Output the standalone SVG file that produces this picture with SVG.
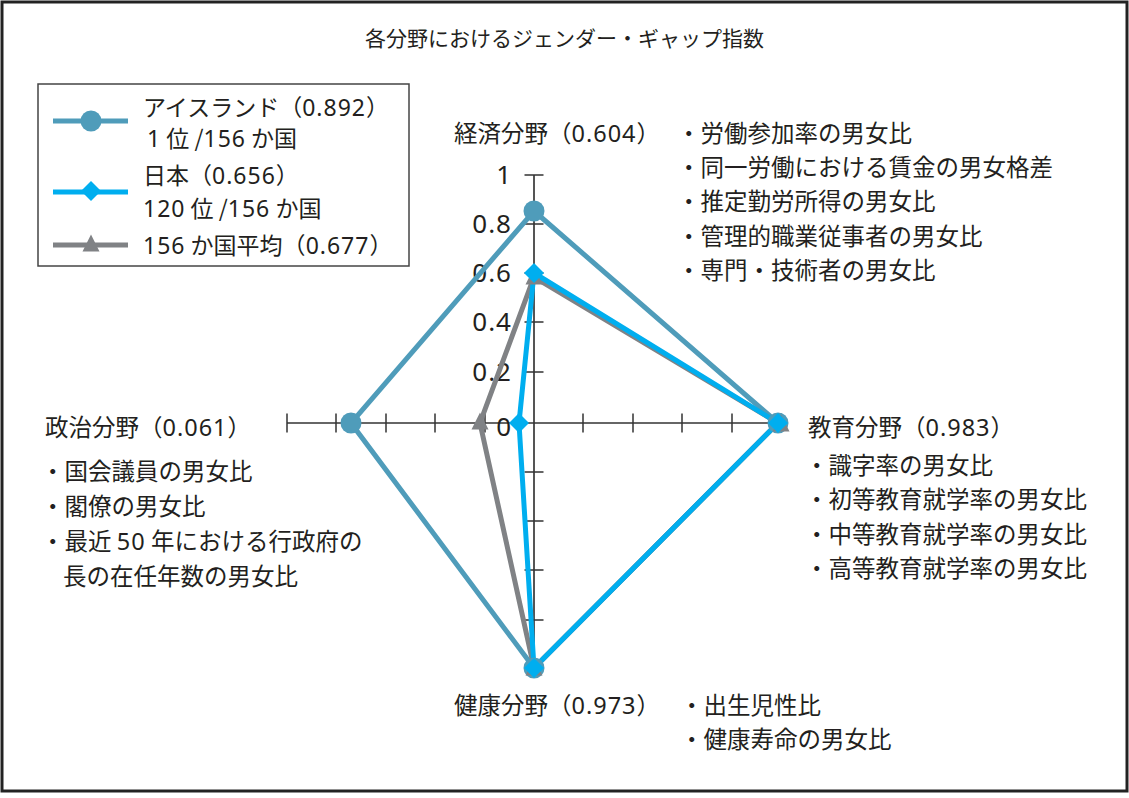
<svg xmlns="http://www.w3.org/2000/svg" width="1129" height="798" viewBox="0 0 1129 798">
<defs>
<style>
text{font-family:"Noto Sans CJK JP","Noto Sans",sans-serif;fill:#231f20;}
.t{font-size:21px;}
.l{font-size:23.5px;}
.g{font-size:23px;}
.d{font-family:"Noto Sans","Noto Sans CJK JP",sans-serif;letter-spacing:1px;}
.n{font-size:26px;text-anchor:end;font-family:"Noto Sans",sans-serif;letter-spacing:1px;}
.ax{stroke:#333;stroke-width:1.5;fill:none;}
.ice{stroke:#4f9cba;stroke-width:5;fill:none;}
.jp{stroke:#00aeef;stroke-width:5;fill:none;}
.avg{stroke:#808285;stroke-width:5;fill:none;}
</style>
<circle id="mIce" r="10.5" fill="#4f9cba"/>
<polygon id="mJp" points="0,-10 10,0 0,10 -10,0" fill="#00aeef"/>
<polygon id="mAvg" points="0,-9.5 8.5,7.5 -8.5,7.5" fill="#808285"/>
</defs>
<rect x="2" y="2" width="1125" height="789" fill="#fff" stroke="#222" stroke-width="3"/>
<g id="title"><text class="t" x="564.5" y="46" text-anchor="middle">各分野におけるジェンダー・ギャップ指数</text></g>
<g id="legend">
<rect x="38" y="84" width="371" height="182" fill="#fff" stroke="#444" stroke-width="1.5"/>
<line x1="53" y1="121" x2="128" y2="121" class="ice"/>
<use href="#mIce" x="91" y="121"/>
<line x1="53" y1="192" x2="128" y2="192" class="jp"/>
<use href="#mJp" x="91" y="191"/>
<line x1="53" y1="245" x2="128" y2="245" class="avg"/>
<use href="#mAvg" x="91" y="244"/>
<text class="g" x="143" y="116">アイスランド（<tspan class="d">0.892</tspan>）</text>
<text class="g" x="147" y="147"><tspan class="d">1</tspan> 位 /<tspan class="d">156</tspan> か国</text>
<text class="g" x="143" y="184">日本（<tspan class="d">0.656</tspan>）</text>
<text class="g" x="143" y="217"><tspan class="d">120</tspan> 位 /<tspan class="d">156</tspan> か国</text>
<text class="g" x="143" y="254"><tspan class="d">156</tspan> か国平均（<tspan class="d">0.677</tspan>）</text>
</g>
<g id="axes">
<line x1="534" y1="175" x2="534" y2="669" stroke="#555" stroke-width="2"/>
<line x1="287" y1="423" x2="781" y2="423" class="ax"/>
<path class="ax" d="M524.5 175H543.5M524.5 224H543.5M524.5 273H543.5M524.5 322H543.5M524.5 372H543.5M524.5 472H543.5M524.5 521H543.5M524.5 570H543.5M524.5 620H543.5M524.5 669H543.5M287 413.5V432.5M336 413.5V432.5M386 413.5V432.5M435 413.5V432.5M485 413.5V432.5M583 413.5V432.5M633 413.5V432.5M682 413.5V432.5M732 413.5V432.5M781 413.5V432.5"/>
<text class="n" x="512" y="184">1</text>
<text class="n" x="512" y="233">0.8</text>
<text class="n" x="512" y="282">0.6</text>
<text class="n" x="512" y="331">0.4</text>
<text class="n" x="512" y="381">0.2</text>
<text class="n" x="512" y="436">0</text>
</g>
<g id="series">
<polygon class="ice" points="534,211 778,423 534,668 351,423"/>
<polygon class="avg" points="534,277 778,423 534,668 480,423"/>
<polygon class="jp" points="534,273 778,423 534,668 519,423"/>
<use href="#mIce" x="534" y="211"/>
<use href="#mIce" x="778" y="423"/>
<use href="#mIce" x="534" y="668"/>
<use href="#mIce" x="351" y="423"/>
<use href="#mAvg" x="534" y="277"/>
<use href="#mAvg" x="781" y="424"/>
<use href="#mAvg" x="534" y="668"/>
<use href="#mAvg" x="480" y="422"/>
<use href="#mJp" x="534" y="273"/>
<use href="#mJp" x="778" y="423"/>
<use href="#mJp" x="534" y="668"/>
<use href="#mJp" x="519" y="423"/>
</g>
<g id="economy">
<text class="l" x="454" y="142">経済分野（<tspan class="d">0.604</tspan>）</text>
<text class="l" x="677" y="142">・労働参加率の男女比</text>
<text class="l" x="677" y="176">・同一労働における賃金の男女格差</text>
<text class="l" x="677" y="210">・推定勤労所得の男女比</text>
<text class="l" x="677" y="245">・管理的職業従事者の男女比</text>
<text class="l" x="677" y="279">・専門・技術者の男女比</text>
</g>
<g id="education">
<text class="l" x="808" y="436">教育分野（<tspan class="d">0.983</tspan>）</text>
<text class="l" x="805" y="474">・識字率の男女比</text>
<text class="l" x="805" y="508">・初等教育就学率の男女比</text>
<text class="l" x="805" y="543">・中等教育就学率の男女比</text>
<text class="l" x="805" y="577">・高等教育就学率の男女比</text>
</g>
<g id="politics">
<text class="l" x="45" y="436">政治分野（<tspan class="d">0.061</tspan>）</text>
<text class="l" x="41" y="480">・国会議員の男女比</text>
<text class="l" x="41" y="515">・閣僚の男女比</text>
<text class="l" x="41" y="550">・最近 <tspan class="d">50</tspan> 年における行政府の</text>
<text class="l" x="63" y="585">長の在任年数の男女比</text>
</g>
<g id="health">
<text class="l" x="454" y="714">健康分野（<tspan class="d">0.973</tspan>）</text>
<text class="l" x="680" y="714">・出生児性比</text>
<text class="l" x="680" y="748">・健康寿命の男女比</text>
</g>
</svg>
